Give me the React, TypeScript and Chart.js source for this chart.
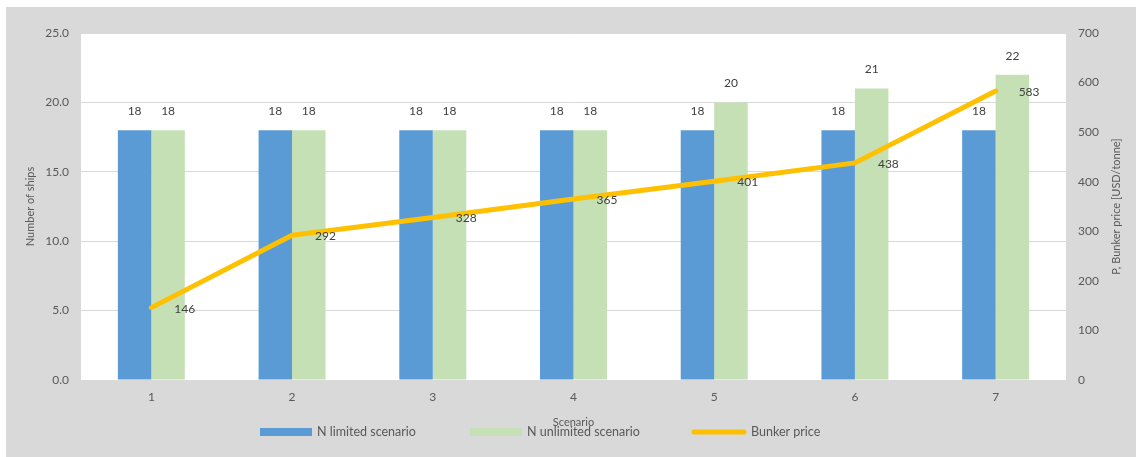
import React, { useEffect, useRef } from "react";
import { Chart, registerables } from "chart.js";

Chart.register(...registerables);

const scenarios = ["1", "2", "3", "4", "5", "6", "7"];
const nLimited = [18, 18, 18, 18, 18, 18, 18];
const nUnlimited = [18, 18, 18, 18, 20, 21, 22];
const bunkerPrice = [146, 292, 328, 365, 401, 438, 583];

const seriesNames = ["N limited scenario", "N unlimited scenario", "Bunker price"];
const xTitle = "Scenario";
const yTitle = "Number of ships";
const y1Title = "P, Bunker price [USD/tonne]";

const BLUE = "#5b9bd5";
const GREEN = "#c5e0b4";
const GOLD = "#ffc000";
const GRAY_BG = "#d9d9d9";
const TEXT = "#595959";
const LABEL = "#404040";
const FONT = "Lato, 'Noto Sans', sans-serif";

const W = 1130;
const H = 450;

const decorPlugin = {
  id: "decor",
  beforeDraw(chart: any) {
    const { ctx, chartArea } = chart;
    ctx.save();
    ctx.fillStyle = "#ffffff";
    ctx.fillRect(chartArea.left, chartArea.top, chartArea.right - chartArea.left, chartArea.bottom - chartArea.top);
    ctx.restore();
  },
  afterDraw(chart: any) {
    const { ctx, chartArea } = chart;
    ctx.save();
    // bar value labels
    ctx.font = `12px ${FONT}`;
    ctx.fillStyle = LABEL;
    ctx.textAlign = "center";
    ctx.textBaseline = "middle";
    [0, 1].forEach((di) => {
      const meta = chart.getDatasetMeta(di);
      const data = chart.data.datasets[di].data as number[];
      meta.data.forEach((el: any, i: number) => {
        ctx.fillText(String(data[i]), el.x, el.y - 19);
      });
    });
    // line value labels
    const lmeta = chart.getDatasetMeta(2);
    ctx.textAlign = "left";
    lmeta.data.forEach((el: any, i: number) => {
      ctx.fillText(String(bunkerPrice[i]), el.x + 23, el.y + 1);
    });

    // right axis title (reads bottom-to-top)
    ctx.font = `11px ${FONT}`;
    ctx.fillStyle = TEXT;
    ctx.textAlign = "center";
    ctx.textBaseline = "middle";
    ctx.save();
    ctx.translate(chart.width - 20, (chartArea.top + chartArea.bottom) / 2);
    ctx.rotate(-Math.PI / 2);
    ctx.fillText(y1Title, 0, 0);
    ctx.restore();

    // legend
    const ly = 425;
    const starts = [254, 464, 686];
    ctx.font = `12.5px ${FONT}`;
    ctx.textAlign = "left";
    ctx.textBaseline = "middle";
    // item 1
    ctx.fillStyle = BLUE;
    ctx.fillRect(starts[0], ly - 4, 52, 8);
    ctx.fillStyle = TEXT;
    ctx.fillText(seriesNames[0], starts[0] + 57, ly);
    // item 2
    ctx.fillStyle = GREEN;
    ctx.fillRect(starts[1], ly - 4, 52, 8);
    ctx.fillStyle = TEXT;
    ctx.fillText(seriesNames[1], starts[1] + 57, ly);
    // item 3
    ctx.strokeStyle = GOLD;
    ctx.lineWidth = 5;
    ctx.lineCap = "round";
    ctx.beginPath();
    ctx.moveTo(starts[2] + 2, ly);
    ctx.lineTo(starts[2] + 52, ly);
    ctx.stroke();
    ctx.fillStyle = TEXT;
    ctx.fillText(seriesNames[2], starts[2] + 59, ly);
    ctx.restore();
  },
};

export default function App() {
  const ref = useRef<HTMLCanvasElement | null>(null);

  useEffect(() => {
    if (!ref.current) return;
    const chart = new Chart(ref.current, {
      type: "bar",
      data: {
        labels: scenarios,
        datasets: [
          {
            type: "bar",
            label: seriesNames[0],
            data: nLimited,
            backgroundColor: BLUE,
            yAxisID: "y",
            order: 1,
            barPercentage: 1,
            categoryPercentage: 0.476,
          },
          {
            type: "bar",
            label: seriesNames[1],
            data: nUnlimited,
            backgroundColor: GREEN,
            yAxisID: "y",
            order: 1,
            barPercentage: 1,
            categoryPercentage: 0.476,
          },
          {
            type: "line",
            label: seriesNames[2],
            data: bunkerPrice,
            borderColor: GOLD,
            backgroundColor: GOLD,
            borderWidth: 5,
            borderCapStyle: "round",
            borderJoinStyle: "round",
            pointRadius: 0,
            tension: 0,
            yAxisID: "y1",
            order: 0,
          } as any,
        ],
      },
      options: {
        responsive: false,
        animation: false,
        layout: { padding: { top: 26, left: 0, right: 0, bottom: 0 } },
        plugins: {
          legend: { display: false },
          tooltip: { enabled: false },
        },
        scales: {
          x: {
            grid: { display: false, drawTicks: false },
            border: { display: false },
            ticks: { color: TEXT, font: { family: FONT, size: 12 }, padding: 10 },
            title: {
              display: true,
              text: xTitle,
              color: TEXT,
              font: { family: FONT, size: 11 },
              padding: { top: 0, bottom: 28 },
            },
            afterFit: (s: any) => {
              s.height = 77;
            },
          },
          y: {
            position: "left",
            min: 0,
            max: 25,
            ticks: {
              stepSize: 5,
              color: TEXT,
              font: { family: FONT, size: 12 },
              padding: 12,
              callback: (v: any) => Number(v).toFixed(1),
            },
            grid: { color: GRAY_BG, lineWidth: 1, drawTicks: false },
            border: { display: false },
            title: {
              display: true,
              text: yTitle,
              color: TEXT,
              font: { family: FONT, size: 11 },
              padding: { top: 18, bottom: 0 },
            },
            afterFit: (s: any) => {
              s.width = 75;
            },
          },
          y1: {
            position: "right",
            min: 0,
            max: 700,
            ticks: {
              stepSize: 100,
              color: TEXT,
              font: { family: FONT, size: 12 },
              padding: 12,
            },
            grid: { display: false, drawTicks: false },
            border: { display: false },
            afterFit: (s: any) => {
              s.width = 70;
            },
          },
        },
      },
      plugins: [decorPlugin],
    });
    return () => chart.destroy();
  }, []);

  return (
    <div
      style={{
        position: "absolute",
        left: 6,
        top: 7,
        width: W,
        height: H,
        background: GRAY_BG,
      }}
    >
      <canvas ref={ref} width={W} height={H} style={{ display: "block" }} />
    </div>
  );
}
